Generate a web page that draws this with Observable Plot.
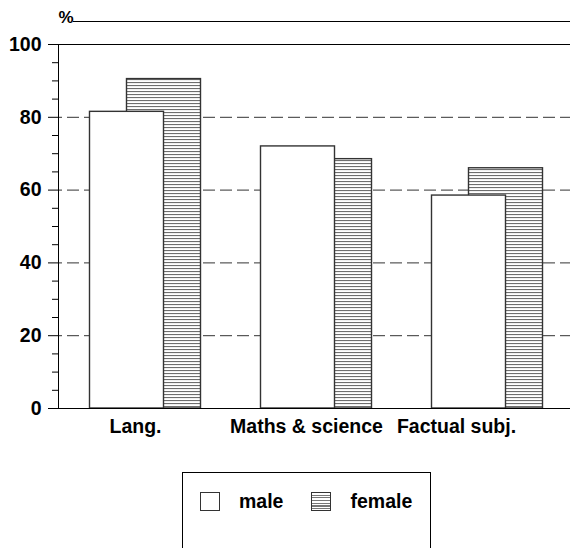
<!DOCTYPE html>
<html>
<head>
<meta charset="utf-8">
<script src="https://cdn.jsdelivr.net/npm/d3@7"></script>
<script src="https://cdn.jsdelivr.net/npm/@observablehq/plot@0.6"></script>
<style>
  html, body { margin: 0; padding: 0; background: #fff; }
  #wrap { width: 570px; font-family: "Liberation Sans", Arial, sans-serif; }
  #chart svg { display: block; }
  #legend {
    margin-left: 182px; margin-top: 20px; width: 249px; height: 100px;
    border: 1px solid #000; box-sizing: border-box; background: #fff;
    padding: 17px 0 0 17px;
    display: flex; align-items: flex-start;
  }
  .item { display: flex; align-items: center; height: 22px; }
  .sw { width: 20px; height: 19px; box-sizing: border-box; border: 1px solid #333; background: #fff; flex: none; }
  .sw.hatch { background: repeating-linear-gradient(to bottom, #fff 0px, #fff 1.5px, #777 1.5px, #777 2.7px); }
  .lab { font-weight: bold; font-size: 19.5px; color: #000; margin-left: 19px; }
  .item + .item { margin-left: 28px; }
</style>
</head>
<body>
<div id="wrap">
  <div id="chart"></div>
  <div id="legend"></div>
</div>
<script>
// ---- data ----
const categories = ["Lang.", "Maths & science", "Factual subj."];
const male = [81.5, 72, 58.5];
const female = [90.5, 68.5, 66];
const seriesNames = ["male", "female"];
const yTicks = [0, 20, 40, 60, 80, 100];
const yMinorTicks = [5, 10, 15, 25, 30, 35, 45, 50, 55, 65, 70, 75, 85, 90, 95];
const gridTicks = [20, 40, 60, 80];

const rows = categories.map((c, i) => ({cat: c, male: male[i], female: female[i]}));
const font = {fontFamily: "Liberation Sans, Arial, sans-serif", fontWeight: "bold", fontSize: 19.5};

const svg = Plot.plot({
  width: 570,
  height: 452,
  marginLeft: 58,
  marginRight: 0,
  marginTop: 21,
  marginBottom: 44,
  style: {background: "#fff", color: "#000", overflow: "visible"},
  x: {domain: categories, range: [58, 574], paddingInner: 0.5685, paddingOuter: 0.2886, label: null},
  y: {domain: [0, 100], range: [408, 44], label: null},
  marks: [
    Plot.frame({anchor: "top", insetLeft: 15, stroke: "#000"}),
    Plot.text(["%"], {frameAnchor: "top-left", textAnchor: "start", lineAnchor: "middle", dy: -4, dx: 0,
      fontFamily: font.fontFamily, fontWeight: "bold", fontSize: 17, fill: "#000"}),
    Plot.ruleY(gridTicks, {stroke: "#333", strokeDasharray: "12,5", strokeDashoffset: 8}),
    Plot.ruleY([100], {stroke: "#000"}),
    Plot.barY(rows, {x: "cat", y: "female", dx: 18.5, fill: "url(#hatch)", stroke: "#333", strokeWidth: 1.4}),
    Plot.barY(rows, {x: "cat", y: "male", dx: -18.5, fill: "#fff", stroke: "#333", strokeWidth: 1.4}),
    Plot.ruleY([0], {stroke: "#000"}),
    Plot.frame({anchor: "left", insetTop: 23, stroke: "#000"}),
    Plot.axisY({ticks: yMinorTicks, tickSize: 6, tickFormat: () => "", label: null}),
    Plot.axisY({ticks: yTicks, tickSize: 10, tickPadding: 7, label: null, ...font}),
    Plot.axisX(categories.slice(0, 2), {tickSize: 0, tickPadding: 11, dx: -10, label: null, ...font}),
    Plot.axisX(categories.slice(2), {tickSize: 0, tickPadding: 11, dx: -31, label: null, ...font})
  ]
});

// hatch pattern for the female bars
const ns = "http://www.w3.org/2000/svg";
const defs = document.createElementNS(ns, "defs");
defs.innerHTML = `<pattern id="hatch" patternUnits="userSpaceOnUse" width="6" height="3">
  <rect width="6" height="3" fill="#fff"/>
  <rect y="1" width="6" height="1.1" fill="#6e6e6e"/>
</pattern>`;
svg.insertBefore(defs, svg.firstChild);
document.getElementById("chart").appendChild(svg);

// legend
const legend = document.getElementById("legend");
seriesNames.forEach((name, i) => {
  const it = document.createElement("div");
  it.className = "item";
  const sw = document.createElement("div");
  sw.className = "sw" + (i === 1 ? " hatch" : "");
  const lab = document.createElement("span");
  lab.className = "lab";
  lab.textContent = name;
  it.appendChild(sw);
  it.appendChild(lab);
  legend.appendChild(it);
});
</script>
</body>
</html>
